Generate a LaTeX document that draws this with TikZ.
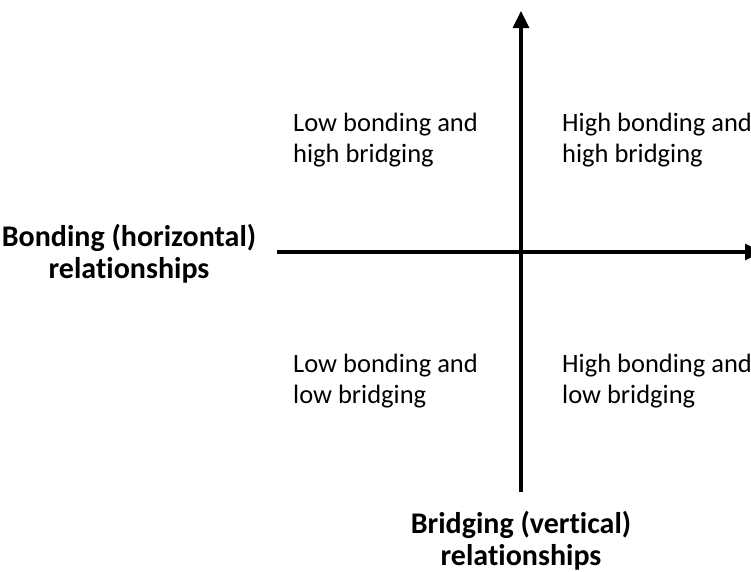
\documentclass[tikz,border=0pt]{standalone}
\usepackage{fontspec}
\setmainfont{Carlito}[RawFeature=-liga]
\usetikzlibrary{arrows.meta}
\begin{document}
\begin{tikzpicture}[x=1pt,y=-1pt,
  axis/.style={line width=3.2pt,-{Triangle[length=17pt,width=16pt]}},
  quad/.style={anchor=base west,align=left,font=\fontsize{26.5}{31}\selectfont,inner sep=0pt},
  axlabel/.style={anchor=base,align=center,font=\fontsize{30}{32}\selectfont\bfseries,inner sep=0pt}]
\useasboundingbox (0,0) rectangle (751,571);
\clip (0,0) rectangle (751,571);
\coordinate (vb) at (521,492);
\coordinate (vt) at (521,11);
\coordinate (hl) at (277,252);
\coordinate (hr) at (762,252);
\draw[axis] (vb) -- (vt);
\draw[axis] (hl) -- (hr);
\node[quad] (q1) at (293,162) {Low bonding and\\high bridging};
\node[quad] (q2) at (562,162) {High bonding and\\high bridging};
\node[quad] (q3) at (293,403) {Low bonding and\\low bridging};
\node[quad] (q4) at (562,403) {High bonding and\\low bridging};
\node[axlabel] (lh) at (129,278) {Bonding (horizontal)\\relationships};
\node[axlabel] (lv) at (521,565) {Bridging (vertical)\\relationships};
\end{tikzpicture}
\end{document}
